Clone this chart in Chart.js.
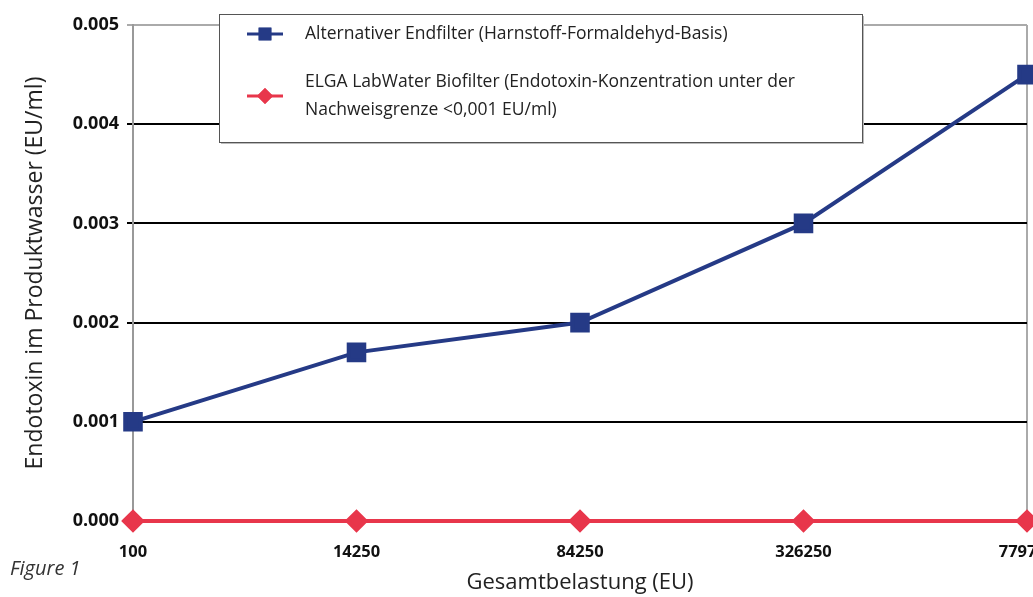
<!DOCTYPE html>
<html>
<head>
<meta charset="utf-8">
<script src="https://cdn.jsdelivr.net/npm/chart.js@4/dist/chart.umd.min.js"></script>
<style>
html,body{margin:0;padding:0;background:#fff;overflow:hidden;width:1033px;height:597px;}
#wrap{position:relative;width:1080px;height:597px;}
#fig{position:absolute;left:10px;top:554px;font-family:"Open Sans",sans-serif;font-style:italic;font-size:20px;color:#333;}
</style>
</head>
<body>
<div id="wrap">
<canvas id="c" width="1080" height="597"></canvas>
<div id="fig">Figure 1</div>
</div>
<script>
// Werte
var categories=["100","14250","84250","326250","779750"];
var alternativ=[0.001,0.0017,0.002,0.003,0.0045];
var elga=[0,0,0,0,0];
var yTicks=[0,0.001,0.002,0.003,0.004,0.005];

var seriesNames=["Alternativer Endfilter (Harnstoff-Formaldehyd-Basis)",
	["ELGA LabWater Biofilter (Endotoxin-Konzentration unter der","Nachweisgrenze <0,001 EU/ml)"]];
var blue="#253a86";
var red="#e8364b";
var fontName="'Open Sans', sans-serif";

// Legende als Kasten innerhalb der Grafik
var boxLegend={
	id:"boxLegend",
	afterDraw:function(chart){
		var ctx=chart.ctx;
		var x0=219,y0=14,w=643,h=128;
		ctx.save();
		ctx.fillStyle="#bbb";
		ctx.fillRect(x0+2,y0+2,w,h);
		ctx.fillStyle="#fff";
		ctx.fillRect(x0,y0,w,h);
		ctx.strokeStyle="#555";
		ctx.lineWidth=1;
		ctx.strokeRect(x0+0.5,y0+0.5,w,h);
		var rows=[34,96];
		for(var i=0;i<chart.data.datasets.length;i++){
			var ds=chart.data.datasets[i];
			var y=rows[i];
			ctx.strokeStyle=ds.borderColor;
			ctx.lineWidth=3;
			ctx.beginPath();ctx.moveTo(247,y);ctx.lineTo(283,y);ctx.stroke();
			ctx.fillStyle=ds.pointBackgroundColor;
			Chart.helpers.drawPoint(ctx,{pointStyle:ds.pointStyle,radius:i==0?9:8,rotation:0},265,y);
			ctx.fill();
			ctx.fillStyle="#222";
			ctx.font="17.5px "+fontName;
			ctx.textBaseline="middle";
			var name=seriesNames[i];
			if(typeof name=="string") ctx.fillText(name,305,y);
			else{ ctx.fillText(name[0],305,y-14); ctx.fillText(name[1],305,y+14); }
		}
		ctx.restore();
	}
};

var chart=new Chart(document.getElementById("c").getContext("2d"),{
	type:"line",
	data:{
		labels:categories,
		datasets:[
			{label:"Alternativer Endfilter",data:alternativ,borderColor:blue,backgroundColor:blue,pointBackgroundColor:blue,pointBorderColor:blue,
			 borderWidth:4,pointStyle:"rect",pointRadius:11,pointHoverRadius:11,tension:0,order:1},
			{label:"ELGA LabWater Biofilter",data:elga,borderColor:red,backgroundColor:red,pointBackgroundColor:red,pointBorderColor:red,
			 borderWidth:4,pointStyle:"rectRot",pointRadius:9,pointHoverRadius:9,tension:0,order:0}
		]
	},
	options:{
		responsive:false,
		animation:false,
		clip:false,
		layout:{padding:{left:0,right:53,top:25,bottom:0}},
		plugins:{legend:{display:false},tooltip:{enabled:false}},
		scales:{
			x:{
				offset:false,
				grid:{drawTicks:false,lineWidth:2,
					color:function(c){return c.index==categories.length-1?"#aaa":"rgba(0,0,0,0)";}},
				border:{display:false},
				ticks:{color:"#111",font:{family:fontName,size:16.5,weight:"bold"},padding:21,maxRotation:0,autoSkip:false},
				title:{display:true,text:"Gesamtbelastung (EU)",color:"#222",font:{family:fontName,size:22},padding:{top:0,bottom:1}},
				afterFit:function(s){s.height=76;s.paddingLeft=0;s.paddingRight=0;}
			},
			y:{
				min:0,max:0.005,
				afterBuildTicks:function(s){s.ticks=yTicks.map(function(v){return {value:v};});},
				grid:{lineWidth:2,tickLength:6,
					color:function(c){return c.tick&&c.tick.value>=0.0049?"#aaa":"#000";}},
				border:{display:true,color:"#999",width:2},
				ticks:{color:"#111",font:{family:fontName,size:18,weight:"bold"},padding:8,
					callback:function(v){return Number(v).toFixed(3);}},
				title:{display:true,text:"Endotoxin im Produktwasser (EU/ml)",color:"#222",font:{family:fontName,size:23},padding:{top:22,bottom:0}},
				afterFit:function(s){s.width=133;s.paddingTop=0;s.paddingBottom=0;}
			}
		}
	},
	plugins:[boxLegend]
});
</script>
</body>
</html>
